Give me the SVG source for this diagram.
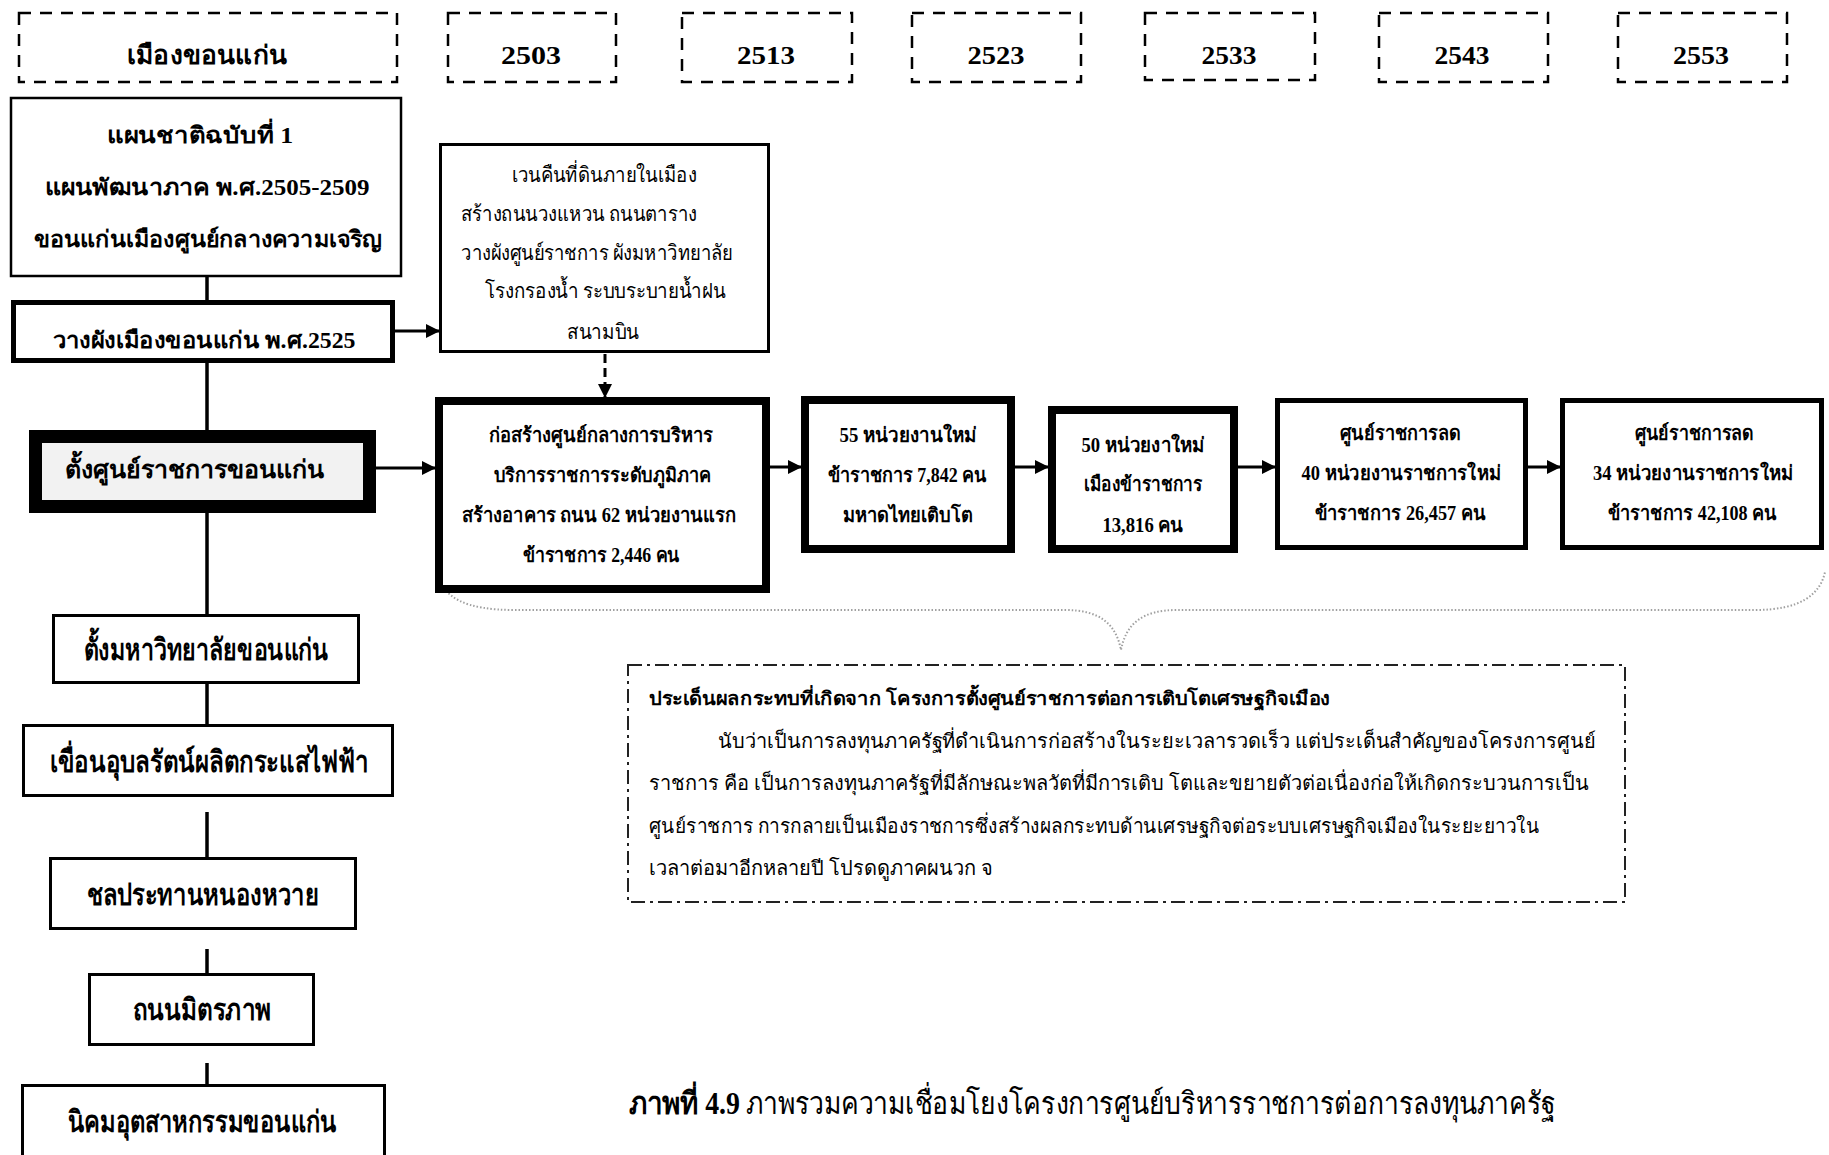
<svg xmlns="http://www.w3.org/2000/svg" width="1829" height="1155" viewBox="0 0 1829 1155">
<style>
text{font-family:"Liberation Serif",serif;fill:#000;text-anchor:middle}
.b{font-weight:bold}
.l{text-anchor:start}
.dash{fill:none;stroke:#000;stroke-width:2.5;stroke-dasharray:12 9}
.box{fill:#fff;stroke:#000}
.t2{stroke-width:2.5}
.t3{stroke-width:3}
.t5{stroke-width:5}
.t8{stroke-width:8}
.conn{stroke:#000;stroke-width:3.5;fill:none}
.arr{stroke:#000;stroke-width:3;fill:none;marker-end:url(#ah)}
</style>
<defs>
<marker id="ah" markerWidth="14" markerHeight="14" refX="13" refY="7" orient="auto" markerUnits="userSpaceOnUse"><path d="M0,0 L14,7 L0,14 z" fill="#000"/></marker>
</defs>
<rect width="1829" height="1155" fill="#fff"/>

<g id="connectors">
<line class="conn" x1="207" y1="276" x2="207" y2="301"/>
<line class="conn" x1="207" y1="362" x2="207" y2="431"/>
<line class="conn" x1="207" y1="512" x2="207" y2="615"/>
<line class="conn" x1="207" y1="683" x2="207" y2="725"/>
<line class="conn" x1="207" y1="812" x2="207" y2="858"/>
<line class="conn" x1="207" y1="949" x2="207" y2="974"/>
<line class="conn" x1="207" y1="1063" x2="207" y2="1085"/>
<line class="arr" x1="395" y1="331" x2="439" y2="331"/>
<line class="arr" x1="605" y1="354" x2="605" y2="397" style="stroke-dasharray:9 5"/>
<line class="arr" x1="376" y1="468" x2="435" y2="468"/>
<line class="arr" x1="770" y1="467" x2="801" y2="467"/>
<line class="arr" x1="1015" y1="467" x2="1048" y2="467"/>
<line class="arr" x1="1238" y1="467" x2="1275" y2="467"/>
<line class="arr" x1="1527" y1="467" x2="1560" y2="467"/>
<path d="M437,572 C443,598 465,610 515,610 L1065,610 C1100,610 1116,624 1121,650 C1126,624 1142,610 1177,610 L1755,610 C1800,610 1820,595 1825,572" fill="none" stroke="#a0a0a0" stroke-width="2" stroke-dasharray="1.5 2"/>
</g>

<g id="h-city"><rect class="dash" x="19" y="13" width="378" height="69"/><text class="b" x="207" y="64" font-size="26" textLength="160" lengthAdjust="spacingAndGlyphs">เมืองขอนแก่น</text></g>
<g id="h-2503"><rect class="dash" x="448" y="13" width="168" height="69"/><text class="b" x="531" y="64" font-size="26" textLength="60" lengthAdjust="spacingAndGlyphs">2503</text></g>
<g id="h-2513"><rect class="dash" x="682" y="13" width="170" height="69"/><text class="b" x="766" y="64" font-size="26" textLength="58" lengthAdjust="spacingAndGlyphs">2513</text></g>
<g id="h-2523"><rect class="dash" x="912" y="13" width="169" height="69"/><text class="b" x="996" y="64" font-size="26" textLength="57" lengthAdjust="spacingAndGlyphs">2523</text></g>
<g id="h-2533"><rect class="dash" x="1145" y="13" width="170" height="67"/><text class="b" x="1229" y="64" font-size="26" textLength="55" lengthAdjust="spacingAndGlyphs">2533</text></g>
<g id="h-2543"><rect class="dash" x="1379" y="13" width="169" height="69"/><text class="b" x="1462" y="64" font-size="26" textLength="55" lengthAdjust="spacingAndGlyphs">2543</text></g>
<g id="h-2553"><rect class="dash" x="1618" y="13" width="169" height="69"/><text class="b" x="1701" y="64" font-size="26" textLength="56" lengthAdjust="spacingAndGlyphs">2553</text></g>

<g id="n-plan1"><rect class="box t2" x="11" y="98" width="390" height="178"/>
<text class="b" x="200" y="143" font-size="23" textLength="186" lengthAdjust="spacingAndGlyphs">แผนชาติฉบับที่ 1</text>
<text class="b" x="207" y="195" font-size="23" textLength="325" lengthAdjust="spacingAndGlyphs">แผนพัฒนาภาค พ.ศ.2505-2509</text>
<text class="b" x="208" y="247" font-size="23" textLength="349" lengthAdjust="spacingAndGlyphs">ขอนแก่นเมืองศูนย์กลางความเจริญ</text></g>

<g id="n-plan2525"><rect class="box t5" x="13.5" y="302.5" width="379" height="58"/>
<text class="b" x="204" y="348" font-size="23" textLength="303" lengthAdjust="spacingAndGlyphs">วางผังเมืองขอนแก่น พ.ศ.2525</text></g>

<g id="n-detail"><rect class="box t3" x="440.5" y="144.5" width="328" height="207"/>
<text x="604" y="182" font-size="21" textLength="185" lengthAdjust="spacingAndGlyphs">เวนคืนที่ดินภายในเมือง</text>
<text class="l" x="461" y="221" font-size="21" textLength="236" lengthAdjust="spacingAndGlyphs">สร้างถนนวงแหวน ถนนตาราง</text>
<text class="l" x="461" y="260" font-size="21" textLength="272" lengthAdjust="spacingAndGlyphs">วางผังศูนย์ราชการ  ผังมหาวิทยาลัย</text>
<text class="l" x="485" y="298" font-size="21" textLength="240" lengthAdjust="spacingAndGlyphs">โรงกรองน้ำ ระบบระบายน้ำฝน</text>
<text x="603" y="339" font-size="21" textLength="72" lengthAdjust="spacingAndGlyphs">สนามบิน</text></g>

<g id="n-center"><rect x="35.5" y="436.5" width="334" height="70" fill="#f2f2f2" stroke="#000" stroke-width="13"/>
<text class="b" x="194" y="478" font-size="25" textLength="259" lengthAdjust="spacingAndGlyphs">ตั้งศูนย์ราชการขอนแก่น</text></g>

<g id="n-2503"><rect class="box t8" x="439" y="401" width="327" height="188"/>
<text class="b" x="601" y="442" font-size="20" textLength="224" lengthAdjust="spacingAndGlyphs">ก่อสร้างศูนย์กลางการบริหาร</text>
<text class="b" x="602" y="482" font-size="20" textLength="217" lengthAdjust="spacingAndGlyphs">บริการราชการระดับภูมิภาค</text>
<text class="b" x="599" y="522" font-size="20" textLength="274" lengthAdjust="spacingAndGlyphs">สร้างอาคาร ถนน 62 หน่วยงานแรก</text>
<text class="b" x="601" y="562" font-size="20" textLength="157" lengthAdjust="spacingAndGlyphs">ข้าราชการ 2,446 คน</text></g>

<g id="n-2513"><rect class="box t8" x="805" y="400" width="206" height="149"/>
<text class="b" x="908" y="442" font-size="20" textLength="137" lengthAdjust="spacingAndGlyphs">55 หน่วยงานใหม่</text>
<text class="b" x="907" y="482" font-size="20" textLength="159" lengthAdjust="spacingAndGlyphs">ข้าราชการ 7,842 คน</text>
<text class="b" x="908" y="522" font-size="20" textLength="130" lengthAdjust="spacingAndGlyphs">มหาดไทยเติบโต</text></g>

<g id="n-2523"><rect class="box t8" x="1052" y="410" width="182" height="139"/>
<text class="b" x="1143" y="452" font-size="20" textLength="123" lengthAdjust="spacingAndGlyphs">50 หน่วยงาใหม่</text>
<text class="b" x="1143" y="491" font-size="20" textLength="118" lengthAdjust="spacingAndGlyphs">เมืองข้าราชการ</text>
<text class="b" x="1143" y="532" font-size="20" textLength="81" lengthAdjust="spacingAndGlyphs">13,816 คน</text></g>

<g id="n-2533"><rect class="box t5" x="1277.5" y="400.5" width="248" height="147"/>
<text class="b" x="1400" y="440" font-size="20" textLength="121" lengthAdjust="spacingAndGlyphs">ศูนย์ราชการลด</text>
<text class="b" x="1401" y="480" font-size="20" textLength="199" lengthAdjust="spacingAndGlyphs">40 หน่วยงานราชการใหม่</text>
<text class="b" x="1400" y="520" font-size="20" textLength="171" lengthAdjust="spacingAndGlyphs">ข้าราชการ 26,457 คน</text></g>

<g id="n-2543"><rect class="box t5" x="1562.5" y="400.5" width="259" height="147"/>
<text class="b" x="1694" y="440" font-size="20" textLength="119" lengthAdjust="spacingAndGlyphs">ศูนย์ราชการลด</text>
<text class="b" x="1693" y="480" font-size="20" textLength="200" lengthAdjust="spacingAndGlyphs">34 หน่วยงานราชการใหม่</text>
<text class="b" x="1692" y="520" font-size="20" textLength="169" lengthAdjust="spacingAndGlyphs">ข้าราชการ 42,108 คน</text></g>

<g id="n-univ"><rect class="box t3" x="53.5" y="615.5" width="305" height="67"/>
<text class="b" x="206" y="660" font-size="30" textLength="245" lengthAdjust="spacingAndGlyphs">ตั้งมหาวิทยาลัยขอนแก่น</text></g>
<g id="n-dam"><rect class="box t3" x="23.5" y="725.5" width="369" height="70"/>
<text class="b" x="209" y="772" font-size="30" textLength="319" lengthAdjust="spacingAndGlyphs">เขื่อนอุบลรัตน์ผลิตกระแสไฟฟ้า</text></g>
<g id="n-irrig"><rect class="box t3" x="50.5" y="858.5" width="305" height="70"/>
<text class="b" x="203" y="905" font-size="30" textLength="232" lengthAdjust="spacingAndGlyphs">ชลประทานหนองหวาย</text></g>
<g id="n-road"><rect class="box t3" x="89.5" y="974.5" width="224" height="70"/>
<text class="b" x="202" y="1020" font-size="30" textLength="139" lengthAdjust="spacingAndGlyphs">ถนนมิตรภาพ</text></g>
<g id="n-estate"><rect class="box t3" x="22.5" y="1085.5" width="362" height="90"/>
<text class="b" x="202" y="1132" font-size="30" textLength="269" lengthAdjust="spacingAndGlyphs">นิคมอุตสาหกรรมขอนแก่น</text></g>

<g id="n-impact"><rect x="628" y="665" width="997" height="237" fill="none" stroke="#222" stroke-width="2" stroke-dasharray="14 5 3 5"/>
<text class="b l" x="649" y="705" font-size="19" textLength="681" lengthAdjust="spacingAndGlyphs">ประเด็นผลกระทบที่เกิดจาก โครงการตั้งศูนย์ราชการต่อการเติบโตเศรษฐกิจเมือง</text>
<text class="l" x="718" y="748" font-size="20" textLength="878" lengthAdjust="spacingAndGlyphs">นับว่าเป็นการลงทุนภาครัฐที่ดำเนินการก่อสร้างในระยะเวลารวดเร็ว แต่ประเด็นสำคัญของโครงการศูนย์</text>
<text class="l" x="649" y="790" font-size="20" textLength="940" lengthAdjust="spacingAndGlyphs">ราชการ คือ เป็นการลงทุนภาครัฐที่มีลักษณะพลวัตที่มีการเติบ โตและขยายตัวต่อเนื่องก่อให้เกิดกระบวนการเป็น</text>
<text class="l" x="649" y="833" font-size="20" textLength="890" lengthAdjust="spacingAndGlyphs">ศูนย์ราชการ การกลายเป็นเมืองราชการซึ่งสร้างผลกระทบด้านเศรษฐกิจต่อระบบเศรษฐกิจเมืองในระยะยาวใน</text>
<text class="l" x="649" y="875" font-size="20" textLength="344" lengthAdjust="spacingAndGlyphs">เวลาต่อมาอีกหลายปี โปรดดูภาคผนวก จ</text></g>

<g id="caption">
<text class="b l" x="629" y="1114" font-size="31" textLength="111" lengthAdjust="spacingAndGlyphs">ภาพที่ 4.9</text>
<text class="l" x="746" y="1114" font-size="31" textLength="810" lengthAdjust="spacingAndGlyphs">ภาพรวมความเชื่อมโยงโครงการศูนย์บริหารราชการต่อการลงทุนภาครัฐ</text>
</g>
</svg>
